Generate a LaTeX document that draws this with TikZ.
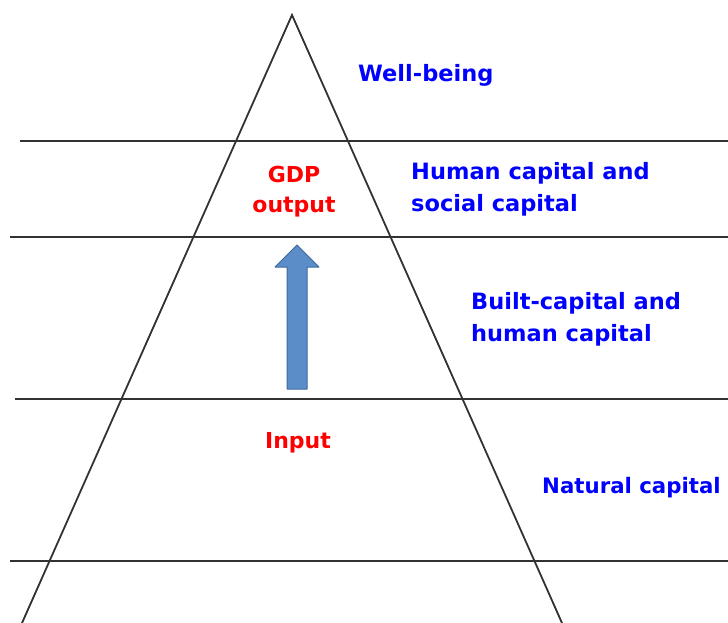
\documentclass[tikz,border=0pt]{standalone}
\usepackage{fontspec}
\setmainfont{DejaVu Sans}
\definecolor{arrowfill}{RGB}{91,141,201}
\definecolor{arrowline}{RGB}{62,106,156}
\definecolor{rule}{RGB}{50,50,50}

\begin{document}
\begin{tikzpicture}[x=1pt, y=-1pt,
  level/.style={draw=rule, line width=2.8pt},
  side/.style={draw=rule, line width=1.8pt},
  layer/.style={text=blue, font=\fontsize{22.5}{32}\selectfont\bfseries, anchor=base west, inner sep=0pt, align=left},
  flow/.style={text=red, font=\fontsize{22}{30}\selectfont\bfseries, anchor=base, inner sep=0pt, align=center},
]
\useasboundingbox (0,0) rectangle (728,623);
% triangle
\coordinate (top) at (292,15);
\coordinate (bl) at (22,623);
\coordinate (br) at (562,623);
\draw[side] (bl) -- (top) -- (br);
% levels
\draw[level] (20,141) -- (728,141);
\draw[level] (10,237) -- (728,237);
\draw[level] (15,399) -- (728,399);
\draw[level] (10,561) -- (728,561);
% labels (base = last line)
\node[layer] (wb) at (358,82) {Well-being};
\node[layer] (hs) at (411,211) {Human capital and\\social capital};
\node[layer] (bh) at (471,341) {Built-capital and\\human capital};
\node[layer, font=\fontsize{21.3}{32}\selectfont\bfseries] (nc) at (542,493) {Natural capital};
\node[flow] (gdp) at (294,212) {GDP\\output};
\node[flow] (in) at (298,448) {Input};
% arrow
\filldraw[fill=arrowfill, draw=arrowline, line width=1pt, line join=round]
  (287,389) -- (287,267) -- (275,267) -- (297,245) -- (319,267) -- (307,267) -- (307,389) -- cycle;
\end{tikzpicture}
\end{document}
